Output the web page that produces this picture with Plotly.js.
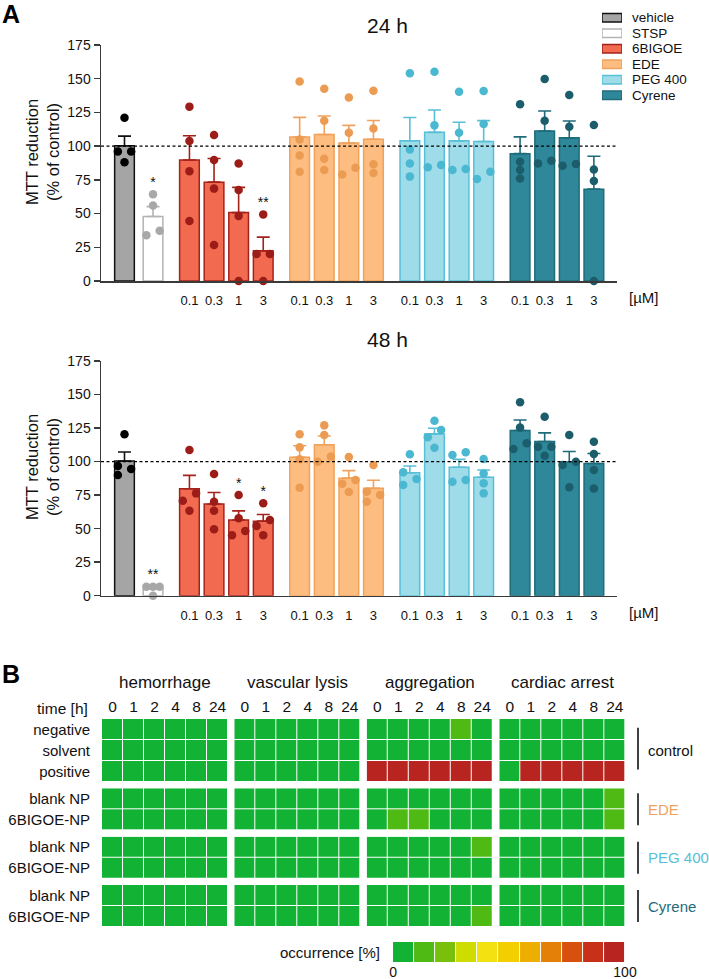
<!DOCTYPE html>
<html><head><meta charset="utf-8">
<script src="https://cdn.plot.ly/plotly-3.0.1.min.js"></script>
<style>html,body{margin:0;padding:0;background:#fff}#chart{width:709px;height:979px}</style>
</head><body><div id="chart"></div>
<script>
// ---------------- DATA ----------------
const groupNames = ['vehicle', 'STSP', '6BIGOE', 'EDE', 'PEG 400', 'Cyrene'];
const concLabels = ['0.1', '0.3', '1', '3'];
const concUnit = '[µM]';
const refLevel = 100;

// 24 h: individual MTT values (% of control)
const vehicle24 = [121, 96, 96, 88];
const stsp24 = [64.3, 55.9, 33.9, 37.3];
const bigoe24 = [[129.3, 103.8, 81.3, 44.5], [108.3, 89.7, 68.5, 26.7], [87.2, 67.5, 48.2, 0], [49.4, 20, 20, 0]];
const ede24 = [[148, 105, 93, 81], [142.6, 118.9, 90.7, 82.3], [136, 110, 79, 84], [141, 113, 86.5, 80]];
const peg24 = [[154, 97.6, 87.2, 77.4], [155.2, 115.4, 84.3, 86], [140.4, 110, 82.3, 83], [140.9, 116.4, 75.6, 81]];
const cyrene24 = [[131, 88.5, 82.3, 76], [149.8, 118.9, 87.2, 89.2], [137.9, 114.4, 85.5, 86.8], [115.7, 82.6, 74.1, 0]];
const sig24 = ['', '*', '', '', '', '**', '', '', '', '', '', '', '', '', '', '', '', ''];

// 48 h
const vehicle48 = [120.3, 96.7, 94.5, 90];
const stsp48 = [6.7, 6.7, 6.7, 0];
const bigoe48 = [[108.6, 76.3, 70.8, 63.4], [90.7, 70.1, 63.4, 49.5], [75, 57.7, 45, 48.2], [68.9, 56.4, 52, 45]];
const ede48 = [[120.3, 110.6, 101.7, 80.5], [127, 119.8, 99.9, 103.7], [103.5, 86.3, 83.5, 77.3], [97.4, 77.6, 75.1, 70.1]];
const peg48 = [[105.4, 92, 87, 82.5], [130.5, 123.5, 118.1, 110.4], [104.9, 106.9, 85, 86.3], [101.9, 91.2, 83.8, 76.3]];
const cyrene48 = [[144.2, 125.5, 109.4, 113.6], [133.5, 111.1, 111.1, 104.4], [119.8, 99.9, 97.4, 80.8], [114.8, 105.6, 93.7, 80]];
const sig48 = ['', '**', '', '', '*', '*', '', '', '', '', '', '', '', '', '', '', '', ''];

// Panel B: occurrence [%]
const timeLabels = ['0', '1', '2', '4', '8', '24'];
const rowLabels = ['negative', 'solvent', 'positive', 'blank NP', '6BIGOE-NP', 'blank NP', '6BIGOE-NP', 'blank NP', '6BIGOE-NP'];
const rowGroupNames = ['control', 'EDE', 'PEG 400', 'Cyrene'];
const rowGroupSizes = [3, 2, 2, 2];
const panelTitles = ['hemorrhage', 'vascular lysis', 'aggregation', 'cardiac arrest'];
const hemorrhage = [
  [0, 0, 0, 0, 0, 0], [0, 0, 0, 0, 0, 0], [0, 0, 0, 0, 0, 0],
  [0, 0, 0, 0, 0, 0], [0, 0, 0, 0, 0, 0],
  [0, 0, 0, 0, 0, 0], [0, 0, 0, 0, 0, 0],
  [0, 0, 0, 0, 0, 0], [0, 0, 0, 0, 0, 0]];
const vascularLysis = [
  [0, 0, 0, 0, 0, 0], [0, 0, 0, 0, 0, 0], [0, 0, 0, 0, 0, 0],
  [0, 0, 0, 0, 0, 0], [0, 0, 0, 0, 0, 0],
  [0, 0, 0, 0, 0, 0], [0, 0, 0, 0, 0, 0],
  [0, 0, 0, 0, 0, 0], [0, 0, 0, 0, 0, 0]];
const aggregation = [
  [0, 0, 0, 0, 10, 0], [0, 0, 0, 0, 0, 0], [100, 100, 100, 100, 100, 100],
  [0, 0, 0, 0, 0, 0], [0, 10, 10, 0, 0, 0],
  [0, 0, 0, 0, 0, 10], [0, 0, 0, 0, 0, 0],
  [0, 0, 0, 0, 0, 0], [0, 0, 0, 0, 0, 10]];
const cardiacArrest = [
  [0, 0, 0, 0, 0, 0], [0, 0, 0, 0, 0, 0], [0, 100, 100, 100, 100, 100],
  [0, 0, 0, 0, 0, 10], [0, 0, 0, 0, 0, 10],
  [0, 0, 0, 0, 0, 0], [0, 0, 0, 0, 0, 0],
  [0, 0, 0, 0, 0, 0], [0, 0, 0, 0, 0, 0]];
const occurrenceLevels = [0, 10, 20, 30, 40, 50, 60, 70, 80, 90, 100];
const occurrenceColors = ['#12b234', '#4fba14', '#78c00c', '#cedc00', '#f4e112', '#f3cf00', '#eeae00', '#e47f08', '#d8500e', '#c9301a', '#b8241f'];

// ---------------- STYLE ----------------
const fills = ['#a5a5a5', '#ffffff', '#f26a4f', '#fdbd80', '#9fdcea', '#2e889a'];
const outlines = ['#111111', '#b3b3b3', '#a3231c', '#f0a25c', '#59bfd6', '#1f6b7a'];
const pointColors = ['#000000', '#a8a8a8', '#9c1c17', '#ec9b52', '#4ab8d1', '#1c5d6c'];
const groupLabelColors = ['#111111', '#f0a25c', '#59bfd6', '#1f6b7a'];
const FONT = 'Liberation Sans, Arial, Helvetica, sans-serif';
const AX = '#3a3a3a';
const W = 709, H = 979;
const fx = p => p / W, fy = p => 1 - p / H;
const domX = (a, b) => [a / W, b / W];
const domY = (top, bot) => [1 - bot / H, 1 - top / H];

// bar positions (unit = bar pitch)
const pos = [0, 1.16];
for (let g = 0; g < 4; g++) for (let i = 0; i < 4; i++) pos.push(2.64 + g * 4.48 + i);
const barGroup = [0, 1, 2, 2, 2, 2, 3, 3, 3, 3, 4, 4, 4, 4, 5, 5, 5, 5];
const XR = [-0.955, 20.02];

function mean(a) { return a.reduce((s, v) => s + v, 0) / a.length; }
function sem(a) { const m = mean(a); const sd = Math.sqrt(a.reduce((s, v) => s + (v - m) * (v - m), 0) / (a.length - 1)); return sd / Math.sqrt(a.length); }

function swarm(vals, pxPerUnit) {
  const D = 8, d = 0.27;
  const idx = vals.map((v, i) => i).sort((a, b) => vals[a] - vals[b]);
  const off = new Array(vals.length).fill(0);
  const clusters = []; let cur = [idx[0]];
  for (let k = 1; k < idx.length; k++) {
    if ((vals[idx[k]] - vals[idx[k - 1]]) * pxPerUnit < D) cur.push(idx[k]);
    else { clusters.push(cur); cur = [idx[k]]; }
  }
  clusters.push(cur);
  clusters.forEach(c => {
    if (c.length === 1) return;
    const span = (vals[c[c.length - 1]] - vals[c[0]]) * pxPerUnit;
    if (c.length === 3 && span < D) { off[c[0]] = -d; off[c[1]] = 0; off[c[2]] = d; }
    else c.forEach((j, k) => { off[j] = (k % 2 === 0 ? -d : d); });
  });
  return off;
}

const traces = [];
function buildBars(xa, ya, sets, sig, pxPerUnit) {
  const bars = sets;
  for (let g = 0; g < 6; g++) {
    const ids = barGroup.map((gg, i) => gg === g ? i : -1).filter(i => i >= 0);
    traces.push({
      type: 'bar', xaxis: xa, yaxis: ya,
      x: ids.map(i => pos[i]), y: ids.map(i => mean(bars[i])), width: 0.8,
      marker: { color: fills[g], line: { color: outlines[g], width: 1.5 } },
      error_y: { type: 'data', symmetric: false, array: ids.map(i => sem(bars[i])), arrayminus: ids.map(() => 0), color: outlines[g], thickness: 1.6, width: 6.5 },
      hoverinfo: 'skip'
    });
  }
  for (let g = 0; g < 6; g++) {
    const ids = barGroup.map((gg, i) => gg === g ? i : -1).filter(i => i >= 0);
    const xs = [], ys = [];
    ids.forEach(i => { const off = swarm(bars[i], pxPerUnit); bars[i].forEach((v, k) => { xs.push(pos[i] + off[k]); ys.push(v); }); });
    traces.push({ type: 'scatter', mode: 'markers', xaxis: xa, yaxis: ya, x: xs, y: ys, cliponaxis: false,
      marker: { size: 8.5, color: pointColors[g], line: { width: 0 } }, hoverinfo: 'skip' });
  }
  const sx = [], sy = [], st = [];
  sig.forEach((s, i) => { if (s) { sx.push(pos[i]); sy.push(Math.max(Math.max(...bars[i]), mean(bars[i]) + sem(bars[i])) + 8); st.push(s); } });
  traces.push({ type: 'scatter', mode: 'text', xaxis: xa, yaxis: ya, x: sx, y: sy, text: st, textposition: 'middle center',
    textfont: { size: 14, color: '#111' }, cliponaxis: false, hoverinfo: 'skip' });
}
const sets24 = [vehicle24, stsp24, ...bigoe24, ...ede24, ...peg24, ...cyrene24];
const sets48 = [vehicle48, stsp48, ...bigoe48, ...ede48, ...peg48, ...cyrene48];
const Y24 = domY(45, 281), Y48 = domY(361, 595.7);
buildBars('x', 'y', sets24, sig24, 236 / 175);
buildBars('x2', 'y2', sets48, sig48, 234.7 / 175);

// heatmaps
const colorscale = [];
occurrenceColors.forEach((c, i) => { colorscale.push([i / 11, c]); colorscale.push([(i + 1) / 11, c]); });
const panels = [hemorrhage, vascularLysis, aggregation, cardiacArrest];
for (let p = 0; p < 4; p++) {
  let start = 0;
  for (let g = 0; g < 4; g++) {
    const n = rowGroupSizes[g];
    traces.push({ type: 'heatmap', xaxis: 'x' + (3 + p), yaxis: 'y' + (3 + g),
      x: timeLabels, y: rowLabels.slice(start, start + n), z: panels[p].slice(start, start + n),
      zmin: -5, zmax: 105, colorscale, showscale: false, xgap: 1, ygap: 1, hoverinfo: 'skip' });
    start += n;
  }
}
// colour key
traces.push({ type: 'heatmap', xaxis: 'x7', yaxis: 'y7', x: occurrenceLevels.map((v, i) => i), y: [0], z: [occurrenceLevels],
  zmin: -5, zmax: 105, colorscale, showscale: false, xgap: 1, hoverinfo: 'skip' });
// legend swatches
traces.push({ type: 'bar', orientation: 'h', xaxis: 'x8', yaxis: 'y8', y: groupNames, x: groupNames.map(() => 1), width: 0.55,
  marker: { color: fills, line: { color: outlines, width: 1.5 } }, cliponaxis: false, hoverinfo: 'skip' });

// ---------------- LAYOUT ----------------
const tickvals = pos.slice(2), ticktext = [];
for (let g = 0; g < 4; g++) concLabels.forEach(c => ticktext.push(c));
function barX(anchor) {
  return { domain: domX(101, 617), anchor, range: XR, showgrid: false, zeroline: false, showline: true, linecolor: AX, linewidth: 1.5,
    ticks: '', tickvals, ticktext, tickfont: { size: 13, color: '#111' }, ticklabelstandoff: 7, fixedrange: true };
}
function barY(anchor, domain) {
  return { domain, anchor, range: [0, 175], tick0: 0, dtick: 25, ticks: 'outside', ticklen: 6, tickwidth: 1.5, tickcolor: AX,
    showline: true, linecolor: AX, linewidth: 1.5, showgrid: false, zeroline: false, tickfont: { size: 14, color: '#111' }, fixedrange: true };
}
const layout = {
  width: W, height: H, margin: { l: 0, r: 0, t: 0, b: 0 }, paper_bgcolor: '#fff', plot_bgcolor: 'rgba(0,0,0,0)',
  showlegend: false, font: { family: FONT, color: '#111', size: 14 }, barmode: 'overlay',
  xaxis: barX('y'), yaxis: barY('x', Y24),
  xaxis2: barX('y2'), yaxis2: barY('x2', Y48),
  shapes: [], annotations: []
};
const panelX = [[102, 228], [234.3, 360.3], [366.7, 492.7], [499.3, 625.3]];
const groupY = [[719, 782], [788.3, 830.3], [836.7, 878.7], [885, 927]];
for (let p = 0; p < 4; p++) {
  layout['xaxis' + (3 + p)] = { domain: domX(panelX[p][0], panelX[p][1]), anchor: 'y3', side: 'top', type: 'category',
    showgrid: false, zeroline: false, showline: false, ticks: '', tickfont: { size: 15.5, color: '#111' }, ticklabelstandoff: 3, fixedrange: true };
  layout.annotations.push({ text: panelTitles[p], xref: 'x' + (3 + p) + ' domain', x: 0.5, yref: 'paper', y: fy(682), xanchor: 'center', yanchor: 'middle',
    showarrow: false, font: { size: 17, color: '#111' } });
}
for (let g = 0; g < 4; g++) {
  layout['yaxis' + (3 + g)] = { domain: domY(groupY[g][0], groupY[g][1]), anchor: 'x3', type: 'category', autorange: 'reversed',
    showgrid: false, zeroline: false, showline: false, ticks: '', tickfont: { size: 15, color: '#111' }, ticklabelstandoff: 11, fixedrange: true };
  const three = rowGroupSizes[g] === 3;
  layout.shapes.push({ type: 'line', xref: 'paper', x0: fx(638), x1: fx(638), yref: 'y' + (3 + g) + ' domain',
    y0: three ? 0.2 : 0.12, y1: three ? 0.86 : 0.88, line: { color: '#111', width: 1.6 } });
  layout.annotations.push({ text: rowGroupNames[g], xref: 'paper', x: fx(646), xanchor: 'left', yref: 'y' + (3 + g) + ' domain', y: 0.5,
    yanchor: 'middle', showarrow: false, font: { size: 15, color: groupLabelColors[g] } });
}
layout.xaxis7 = { domain: domX(393, 625), anchor: 'y7', range: [-0.501, occurrenceLevels.length - 0.499], showgrid: false, zeroline: false,
  showline: false, ticks: '', tickvals: [-0.5, occurrenceLevels.length - 0.5], ticktext: [String(occurrenceLevels[0]), String(occurrenceLevels[occurrenceLevels.length - 1])],
  tickfont: { size: 14, color: '#111' }, ticklabelstandoff: 0, fixedrange: true };
layout.yaxis7 = { domain: domY(942, 962), anchor: 'x7', visible: false, fixedrange: true };
layout.xaxis8 = { domain: domX(602, 622), anchor: 'y8', range: [0, 1], visible: false, fixedrange: true };
layout.yaxis8 = { domain: domY(10, 103), anchor: 'x8', type: 'category', autorange: 'reversed', side: 'right', showgrid: false,
  zeroline: false, showline: false, ticks: '', tickmode: 'array', tickvals: groupNames, ticktext: groupNames,
  tickfont: { size: 13.5, color: '#111' }, ticklabelstandoff: 9, fixedrange: true };

// reference lines at 100 %
['y', 'y2'].forEach((ya, k) => layout.shapes.push({ type: 'line', xref: (k ? 'x2' : 'x') + ' domain', x0: 0, x1: 1, yref: ya, y0: refLevel, y1: refLevel,
  line: { color: '#000', width: 1.3, dash: '3px,2.5px' } }));

const ann = (text, x, y, size, opts) => layout.annotations.push(Object.assign({ text, xref: 'paper', yref: 'paper', x: fx(x), y: fy(y),
  xanchor: 'center', yanchor: 'middle', showarrow: false, font: { size, color: '#111' } }, opts || {}));
ann('<b>A</b>', 11, 14, 25, { font: { size: 25, color: '#000', family: 'Liberation Sans, Arial, sans-serif' } });
ann('<b>B</b>', 11, 674, 25, { font: { size: 25, color: '#000', family: 'Liberation Sans, Arial, sans-serif' } });
ann('24 h', 387, 25, 21);
ann('48 h', 387, 339, 21);
ann('MTT reduction<br>(% of control)', 42, 152, 16.5, { textangle: -90 });
ann('MTT reduction<br>(% of control)', 42, 467, 16.5, { textangle: -90 });
ann(concUnit, 643, 297, 15);
ann(concUnit, 643, 612, 15);
ann('time [h]', 90, 708, 15.5, { xanchor: 'right' });
ann('occurrence [%]', 382, 952, 15, { xanchor: 'right' });

Plotly.newPlot('chart', traces, layout, { staticPlot: true, displayModeBar: false });
</script></body></html>
